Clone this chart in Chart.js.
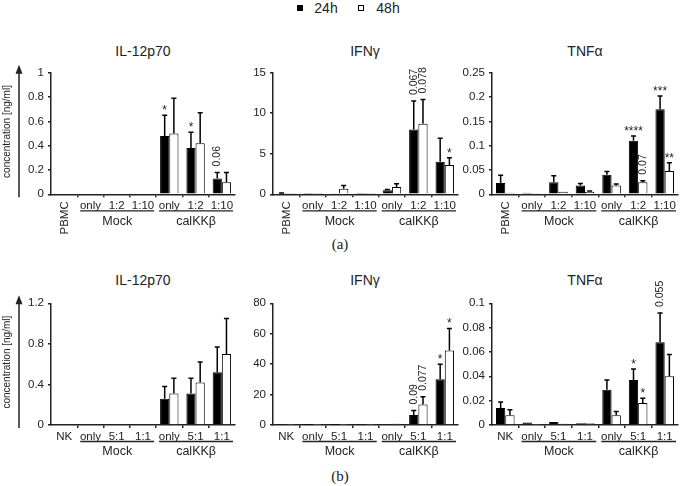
<!DOCTYPE html>
<html>
<head>
<meta charset="utf-8">
<script src="https://cdn.jsdelivr.net/npm/chart.js@4.4.0/dist/chart.umd.min.js"></script>
<style>
  body { margin: 0; background: #fff; }
  #wrap { position: relative; width: 680px; height: 486px; overflow: hidden; font-family: "Liberation Sans", Arial, sans-serif; color: #222; }
  canvas { position: absolute; left: 0; top: 0; }
  .lbl { position: absolute; transform: translate(-50%, -50%); white-space: nowrap; }
  .title { font-size: 14px; }
  .panel { font-family: "Liberation Serif", "Times New Roman", serif; font-size: 15px; }
  .legend { font-size: 14px; }
  .sw { position: absolute; width: 6px; height: 6px; border: 1px solid #000; box-sizing: border-box; }
</style>
</head>
<body>
<div id="wrap">
  <span class="sw" style="left:297px;top:5px;background:#000"></span>
  <span class="lbl legend" style="left:326px;top:8px">24h</span>
  <span class="sw" style="left:358px;top:5px;background:#fff"></span>
  <span class="lbl legend" style="left:388px;top:8px">48h</span>

  <span class="lbl title" style="left:143px;top:51px">IL-12p70</span>
  <span class="lbl title" style="left:365px;top:51px">IFNγ</span>
  <span class="lbl title" style="left:585px;top:51px">TNFα</span>
  <span class="lbl panel" style="left:340px;top:244px">(a)</span>

  <span class="lbl title" style="left:143px;top:280px">IL-12p70</span>
  <span class="lbl title" style="left:365px;top:280px">IFNγ</span>
  <span class="lbl title" style="left:585px;top:280px">TNFα</span>
  <span class="lbl panel" style="left:340px;top:476px">(b)</span>
</div>
<script>
// categories
const catsA = ['PBMC', 'only', '1:2', '1:10', 'only', '1:2', '1:10'];
const catsB = ['NK', 'only', '5:1', '1:1', 'only', '5:1', '1:1'];
const groupNames = ['Mock', 'calKKβ'];
const groupFrom = [1, 4];
const groupTo = [3, 6];
const seriesLabels = ['24h', '48h'];
const yTitle = 'concentration [ng/ml]';

// (a) IL-12p70
const il12A_24 = [0, 0, 0, 0, 0.48, 0.38, 0.13];
const il12A_48 = [0, 0, 0, 0, 0.50, 0.42, 0.10];
const il12A_24err = [0, 0, 0, 0, 0.17, 0.13, 0.05];
const il12A_48err = [0, 0, 0, 0, 0.29, 0.25, 0.08];
const il12A_24marks = ['', '', '', '', '*', '*', '0.06'];
const il12A_48marks = ['', '', '', '', '', '', ''];
const il12A_ticks = [0, 0.2, 0.4, 0.6, 0.8, 1];

// (a) IFNγ
const ifnA_24 = [0.12, 0.02, 0.06, 0.04, 0.5, 8.0, 4.0];
const ifnA_48 = [0.03, 0.02, 0.7, 0.05, 0.9, 8.7, 3.6];
const ifnA_24err = [0.05, 0, 0, 0, 0.1, 3.5, 2.9];
const ifnA_48err = [0, 0, 0.4, 0, 0.4, 3.0, 0.9];
const ifnA_24marks = ['', '', '', '', '', '0.067', ''];
const ifnA_48marks = ['', '', '', '', '', '0.078', '*'];
const ifnA_ticks = [0, 5, 10, 15];

// (a) TNFα
const tnfA_24 = [0.023, 0.003, 0.025, 0.018, 0.040, 0.110, 0.175];
const tnfA_48 = [0.003, 0.002, 0.005, 0.005, 0.018, 0.025, 0.048];
const tnfA_24err = [0.016, 0, 0.013, 0.004, 0.007, 0.010, 0.027];
const tnfA_48err = [0, 0, 0, 0.002, 0.003, 0.003, 0.017];
const tnfA_24marks = ['', '', '', '', '', '****', '***'];
const tnfA_48marks = ['', '', '', '', '', '0.07', '**'];
const tnfA_ticks = [0, 0.05, 0.1, 0.15, 0.2, 0.25];

// (b) IL-12p70
const il12B_24 = [0, 0, 0, 0, 0.26, 0.31, 0.52];
const il12B_48 = [0, 0, 0, 0, 0.31, 0.42, 0.70];
const il12B_24err = [0, 0, 0, 0, 0.12, 0.15, 0.25];
const il12B_48err = [0, 0, 0, 0, 0.15, 0.20, 0.35];
const il12B_24marks = ['', '', '', '', '', '', ''];
const il12B_48marks = ['', '', '', '', '', '', ''];
const il12B_ticks = [0, 0.4, 0.8, 1.2];

// (b) IFNγ
const ifnB_24 = [0.3, 0.05, 0.05, 0.2, 0.3, 6.5, 30];
const ifnB_48 = [0.2, 0.05, 0.05, 0.2, 0.8, 13.5, 49];
const ifnB_24err = [0, 0, 0, 0, 0, 3.0, 10];
const ifnB_48err = [0, 0, 0, 0, 0, 5.0, 14.5];
const ifnB_24marks = ['', '', '', '', '', '0.09', '*'];
const ifnB_48marks = ['', '', '', '', '', '0.077', '*'];
const ifnB_ticks = [0, 20, 40, 60, 80];

// (b) TNFα
const tnfB_24 = [0.014, 0.002, 0.0025, 0.0015, 0.029, 0.037, 0.068];
const tnfB_48 = [0.008, 0.0003, 0.001, 0.0015, 0.008, 0.018, 0.040];
const tnfB_24err = [0.005, 0, 0, 0, 0.008, 0.009, 0.024];
const tnfB_48err = [0.0045, 0, 0, 0, 0.003, 0.004, 0.018];
const tnfB_24marks = ['', '', '', '', '', '*', '0.055'];
const tnfB_48marks = ['', '', '', '', '', '*', ''];
const tnfB_ticks = [0, 0.02, 0.04, 0.06, 0.08, 0.1];

const FONT = '"Liberation Sans", Arial, sans-serif';
const INK = '#222';
const W = 680, H = 486;
const Y_W = 45, X_H = 4;

// draws error bars, significance marks, category labels, groups and y title
const panelDecor = {
    id: 'panelDecor',
    afterDatasetsDraw(chart) {
        const ctx = chart.ctx;
        const ys = chart.scales.y;
        ctx.save();
        chart.data.datasets.forEach((ds, i) => {
            const meta = chart.getDatasetMeta(i);
            meta.data.forEach((bar, j) => {
                const v = ds.data[j];
                const e = ds.errors[j] || 0;
                const top = ys.getPixelForValue(v + e);
                if (e > 0) {
                    ctx.strokeStyle = '#000';
                    ctx.lineWidth = 1.5;
                    ctx.beginPath();
                    ctx.moveTo(bar.x, bar.y);
                    ctx.lineTo(bar.x, top);
                    ctx.moveTo(bar.x - 2.5, top);
                    ctx.lineTo(bar.x + 2.5, top);
                    ctx.stroke();
                }
                const m = ds.marks[j];
                if (!m) return;
                ctx.fillStyle = INK;
                if (/^[0-9.]+$/.test(m)) {
                    ctx.save();
                    ctx.translate(bar.x, top - 6);
                    ctx.rotate(-Math.PI / 2);
                    ctx.font = '10.5px ' + FONT;
                    ctx.textAlign = 'left';
                    ctx.textBaseline = 'middle';
                    ctx.fillText(m, 0, 0);
                    ctx.restore();
                } else {
                    ctx.font = '12px ' + FONT;
                    ctx.textAlign = 'center';
                    ctx.textBaseline = 'alphabetic';
                    ctx.fillText(m, bar.x, top - 1);
                }
            });
        });
        ctx.restore();
    },
    afterDraw(chart, args, opts) {
        const ctx = chart.ctx;
        const xs = chart.scales.x;
        const area = chart.chartArea;
        const labels = chart.data.labels;
        const cw = (area.right - area.left) / labels.length;
        ctx.save();
        ctx.fillStyle = INK;
        ctx.font = '11.5px ' + FONT;
        labels.forEach((lab, j) => {
            const x = xs.getPixelForValue(j);
            if (ctx.measureText(lab).width > cw - 2) {
                ctx.save();
                ctx.translate(x + 1, area.bottom + 7);
                ctx.rotate(-Math.PI / 2);
                ctx.textAlign = 'right';
                ctx.textBaseline = 'middle';
                ctx.fillText(lab, 0, 0);
                ctx.restore();
            } else {
                ctx.textAlign = 'center';
                ctx.textBaseline = 'middle';
                ctx.fillText(lab, x, area.bottom + 11.5);
            }
        });
        // group underlines and names
        ctx.strokeStyle = INK;
        ctx.lineWidth = 1.3;
        ctx.font = '12.5px ' + FONT;
        ctx.textAlign = 'center';
        ctx.textBaseline = 'middle';
        groupNames.forEach((g, k) => {
            const x0 = xs.getPixelForValue(groupFrom[k]) - cw / 2 + 3;
            const x1 = xs.getPixelForValue(groupTo[k]) + cw / 2 - 2;
            ctx.beginPath();
            ctx.moveTo(x0, area.bottom + 16.5);
            ctx.lineTo(x1, area.bottom + 16.5);
            ctx.stroke();
            ctx.fillText(g, (x0 + x1) / 2, area.bottom + 27);
        });
        // y title with arrow
        if (opts.showYTitle) {
            const ax = 19;
            const yTop = area.top - 8;
            ctx.strokeStyle = INK;
            ctx.fillStyle = INK;
            ctx.lineWidth = 1.5;
            ctx.beginPath();
            ctx.moveTo(ax, area.bottom + 3);
            ctx.lineTo(ax, yTop + 6);
            ctx.stroke();
            ctx.beginPath();
            ctx.moveTo(ax, yTop);
            ctx.lineTo(ax - 3.5, yTop + 9);
            ctx.lineTo(ax + 3.5, yTop + 9);
            ctx.closePath();
            ctx.fill();
            ctx.save();
            ctx.translate(7, (area.top + area.bottom) / 2 - 2);
            ctx.rotate(-Math.PI / 2);
            ctx.font = '10px ' + FONT;
            ctx.fillText(yTitle, 0, 0);
            ctx.restore();
        }
        ctx.restore();
    }
};

function makePanel(box, cats, d24, d48, e24, e48, m24, m48, ticks, showYTitle) {
    const canvas = document.createElement('canvas');
    canvas.width = W;
    canvas.height = H;
    canvas.style.width = W + 'px';
    canvas.style.height = H + 'px';
    document.getElementById('wrap').appendChild(canvas);

    return new Chart(canvas, {
        type: 'bar',
        data: {
            labels: cats,
            datasets: [
                { label: seriesLabels[0], data: d24, errors: e24, marks: m24,
                  backgroundColor: '#000', borderColor: '#000', borderWidth: 1 },
                { label: seriesLabels[1], data: d48, errors: e48, marks: m48,
                  backgroundColor: '#fff', borderColor: '#000', borderWidth: 1 }
            ]
        },
        options: {
            responsive: false,
            animation: false,
            devicePixelRatio: 1,
            categoryPercentage: 0.7,
            barPercentage: 1.0,
            layout: {
                padding: { left: box.L - Y_W, right: W - box.R, top: box.T, bottom: H - box.B - X_H }
            },
            plugins: {
                legend: { display: false },
                tooltip: { enabled: false },
                panelDecor: { showYTitle: showYTitle }
            },
            scales: {
                x: {
                    offset: true,
                    border: { display: true, color: INK, width: 1.5 },
                    grid: {
                        offset: true,
                        drawOnChartArea: false,
                        drawTicks: true,
                        tickLength: 3,
                        lineWidth: 1.5,
                        color: c => (c.type !== 'tick' || c.index === 0) ? 'rgba(0,0,0,0)' : INK
                    },
                    ticks: { display: false },
                    afterFit: s => { s.height = X_H; s.paddingLeft = 0; s.paddingRight = 0; }
                },
                y: {
                    min: 0,
                    max: ticks[ticks.length - 1],
                    border: { display: true, color: INK, width: 1.5 },
                    grid: { drawOnChartArea: false, drawTicks: true, tickLength: 3, lineWidth: 1.5, color: INK },
                    ticks: {
                        color: INK,
                        padding: 4,
                        font: { family: FONT, size: 11.5 },
                        callback: v => String(+v.toFixed(3))
                    },
                    afterBuildTicks: s => { s.ticks = ticks.map(v => ({ value: v })); },
                    afterFit: s => { s.width = Y_W; s.paddingTop = 0; s.paddingBottom = 0; }
                }
            }
        },
        plugins: [panelDecor]
    });
}

const rowA = { T: 72.7, B: 194.3 };
const rowB = { T: 303.3, B: 425 };
const cols = [{ L: 51, R: 235 }, { L: 273, R: 458 }, { L: 492, R: 678 }];

makePanel({ ...cols[0], ...rowA }, catsA, il12A_24, il12A_48, il12A_24err, il12A_48err, il12A_24marks, il12A_48marks, il12A_ticks, true);
makePanel({ ...cols[1], ...rowA }, catsA, ifnA_24, ifnA_48, ifnA_24err, ifnA_48err, ifnA_24marks, ifnA_48marks, ifnA_ticks, false);
makePanel({ ...cols[2], ...rowA }, catsA, tnfA_24, tnfA_48, tnfA_24err, tnfA_48err, tnfA_24marks, tnfA_48marks, tnfA_ticks, false);
makePanel({ ...cols[0], ...rowB }, catsB, il12B_24, il12B_48, il12B_24err, il12B_48err, il12B_24marks, il12B_48marks, il12B_ticks, true);
makePanel({ ...cols[1], ...rowB }, catsB, ifnB_24, ifnB_48, ifnB_24err, ifnB_48err, ifnB_24marks, ifnB_48marks, ifnB_ticks, false);
makePanel({ ...cols[2], ...rowB }, catsB, tnfB_24, tnfB_48, tnfB_24err, tnfB_48err, tnfB_24marks, tnfB_48marks, tnfB_ticks, false);
</script>
</body>
</html>
